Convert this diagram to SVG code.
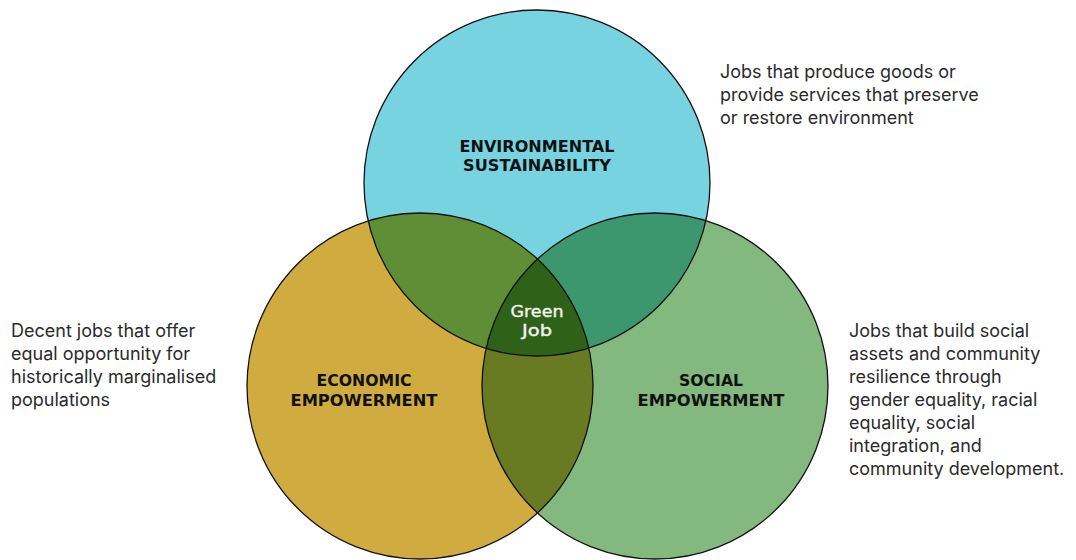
<svg xmlns="http://www.w3.org/2000/svg" width="1076" height="560" viewBox="0 0 1076 560">
  <style>
    .ring { fill: none; stroke: #111; stroke-width: 1.3; }
    .title { font-family: "DejaVu Sans", "Liberation Sans", sans-serif; font-weight: bold; font-size: 15.5px; fill: #111; text-anchor: middle; }
    .core { font-family: "DejaVu Sans", "Liberation Sans", sans-serif; font-size: 16px; fill: #f4f4f4; text-anchor: middle; stroke: #f4f4f4; stroke-width: 0.35; }
    .note { font-family: "Inter", "Liberation Sans", sans-serif; font-size: 18px; fill: #2b2b2b; }
  </style>
  <defs>
    <clipPath id="clipTop"><circle cx="537" cy="183" r="173"/></clipPath>
    <clipPath id="clipLeft"><circle cx="420" cy="386" r="173"/></clipPath>
  </defs>
  <rect width="1076" height="560" fill="#ffffff"/>

  <!-- base discs -->
  <g id="environmental">
    <circle cx="537" cy="183" r="173" fill="#77D3E0"/>
  </g>
  <g id="economic">
    <circle cx="420" cy="386" r="173" fill="#CFAB40"/>
  </g>
  <g id="social">
    <circle cx="655" cy="386" r="173" fill="#83B87E"/>
  </g>

  <!-- pairwise overlaps and the triple centre -->
  <g id="overlaps">
    <circle cx="420" cy="386" r="173" fill="#5F8E37" clip-path="url(#clipTop)"/>
    <circle cx="655" cy="386" r="173" fill="#3C976E" clip-path="url(#clipTop)"/>
    <circle cx="655" cy="386" r="173" fill="#687A22" clip-path="url(#clipLeft)"/>
    <g clip-path="url(#clipLeft)">
      <circle id="green-job" cx="655" cy="386" r="173" fill="#2E6219" clip-path="url(#clipTop)"/>
    </g>
  </g>

  <!-- outlines -->
  <g id="outlines">
    <circle class="ring" cx="537" cy="183" r="173"/>
    <circle class="ring" cx="420" cy="386" r="173"/>
    <circle class="ring" cx="655" cy="386" r="173"/>
  </g>

  <!-- circle titles -->
  <g id="labels">
    <text class="title" x="537" y="152" textLength="155" lengthAdjust="spacingAndGlyphs">ENVIRONMENTAL</text>
    <text class="title" x="537" y="171" textLength="148" lengthAdjust="spacingAndGlyphs">SUSTAINABILITY</text>
    <text class="title" x="364" y="386" textLength="95" lengthAdjust="spacingAndGlyphs">ECONOMIC</text>
    <text class="title" x="364" y="406" textLength="147" lengthAdjust="spacingAndGlyphs">EMPOWERMENT</text>
    <text class="title" x="711" y="386" textLength="64" lengthAdjust="spacingAndGlyphs">SOCIAL</text>
    <text class="title" x="711" y="406" textLength="147" lengthAdjust="spacingAndGlyphs">EMPOWERMENT</text>
    <text class="core" x="537" y="317" textLength="53" lengthAdjust="spacingAndGlyphs">Green</text>
    <text class="core" x="537" y="336" textLength="30" lengthAdjust="spacingAndGlyphs">Job</text>
  </g>

  <!-- side descriptions -->
  <g id="note-environmental">
    <text class="note" x="720" y="78">Jobs that produce goods or</text>
    <text class="note" x="720" y="101">provide services that preserve</text>
    <text class="note" x="720" y="124">or restore environment</text>
  </g>
  <g id="note-economic">
    <text class="note" x="11" y="337">Decent jobs that offer</text>
    <text class="note" x="11" y="360">equal opportunity for</text>
    <text class="note" x="11" y="383">historically marginalised</text>
    <text class="note" x="11" y="406">populations</text>
  </g>
  <g id="note-social">
    <text class="note" x="849" y="337">Jobs that build social</text>
    <text class="note" x="849" y="360">assets and community</text>
    <text class="note" x="849" y="383">resilience through</text>
    <text class="note" x="849" y="406">gender equality, racial</text>
    <text class="note" x="849" y="429">equality, social</text>
    <text class="note" x="849" y="452">integration, and</text>
    <text class="note" x="849" y="475">community development.</text>
  </g>
</svg>
